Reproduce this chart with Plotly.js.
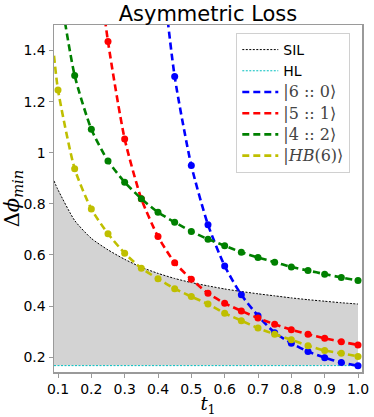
<!DOCTYPE html>
<html>
<head>
<meta charset="utf-8">
<script src="https://cdn.plot.ly/plotly-3.0.1.min.js"></script>
<style>
  html, body { margin: 0; padding: 0; background: #fff; }
  #chart { width: 374px; height: 417px; }
</style>
</head>
<body>
<div id="chart"></div>
<script>
// --- Data ---
// common grid for the state curves (markers every 0.05)
const tGrid = [0.1, 0.15, 0.2, 0.25, 0.3, 0.35, 0.4, 0.45, 0.5, 0.55,
               0.6, 0.65, 0.7, 0.75, 0.8, 0.85, 0.9, 0.95, 1.0];

// |6::0>  (enters from the top between 0.4 and 0.45)
const t60 = [0.4, 0.45, 0.5, 0.55, 0.6, 0.65, 0.7, 0.75, 0.8, 0.85, 0.9, 0.95, 1.0];
const y60 = [1.86, 1.298, 0.95, 0.718, 0.557, 0.444, 0.362, 0.296, 0.255, 0.222, 0.198, 0.179, 0.166];

// |5::1>
const t51 = [0.2, 0.25, 0.3, 0.35, 0.4, 0.45, 0.5, 0.55, 0.6, 0.65, 0.7, 0.75, 0.8, 0.85, 0.9, 0.95, 1.0];
const y51 = [1.95, 1.435, 1.054, 0.820, 0.672, 0.570, 0.505, 0.450, 0.411, 0.381, 0.353, 0.329, 0.307, 0.290, 0.274, 0.260, 0.248];

// |4::2>
const y42 = [1.68, 1.302, 1.092, 0.968, 0.885, 0.820, 0.767, 0.728, 0.692, 0.662,
             0.636, 0.611, 0.590, 0.572, 0.553, 0.539, 0.525, 0.512, 0.500];

// |HB(6)>  (line runs on to the left spine)
const tHB = [0.088].concat(tGrid);
const yHB = [1.38, 1.246, 0.937, 0.780, 0.683, 0.607, 0.548, 0.507, 0.468, 0.437, 0.408,
             0.372, 0.343, 0.314, 0.290, 0.268, 0.245, 0.226, 0.215, 0.203];

// SIL and HL bounds
const tBound = [0.088].concat(tGrid);
const ySIL = [0.89, 0.855, 0.735, 0.665, 0.62, 0.583, 0.552, 0.528, 0.508, 0.492, 0.479,
              0.467, 0.457, 0.448, 0.440, 0.432, 0.425, 0.419, 0.413, 0.408];
const tHL = [0.088, 1.0];
const yHL = [0.167, 0.167];

// x tick labels
const xTickVals = [0.1, 0.2, 0.3, 0.4, 0.5, 0.6, 0.7, 0.8, 0.9, 1.0];
const xTickText = ['0.1', '0.2', '0.3', '0.4', '0.5', '0.6', '0.7', '0.8', '0.9', '1.0'];

// --- Styling ---
const dash = '7px,4px';
const serif = "'DejaVu Serif', serif";
const mathName = s => `<span style="font-family:${serif};font-size:16px;color:#444">${s}</span>`;

// each state = a line trace (legend) + a marker trace (no legend)
function stateTraces(x, y, color, name) {
    const line = {
        x: x, y: y,
        type: 'scatter', mode: 'lines', name: name,
        line: { color: color, width: 2.6, dash: dash, shape: 'spline', smoothing: 0.6 }
    };
    const mx = x.filter(v => v >= 0.1);
    const my = y.filter((v, i) => x[i] >= 0.1);
    const dots = {
        x: mx, y: my,
        type: 'scatter', mode: 'markers', showlegend: false,
        marker: { color: color, size: 7, opacity: 1, line: { width: 0 } }
    };
    return [line, dots];
}

// gray band between HL and SIL
const fillBase = {
    x: tHL, y: yHL, type: 'scatter', mode: 'lines',
    line: { width: 0 }, showlegend: false, hoverinfo: 'skip'
};
const fillTop = {
    x: tBound, y: ySIL, type: 'scatter', mode: 'lines',
    fill: 'tonexty', fillcolor: '#d3d3d3',
    line: { width: 0, shape: 'spline', smoothing: 0.6 }, showlegend: false, hoverinfo: 'skip'
};

const silTrace = {
    x: tBound, y: ySIL, type: 'scatter', mode: 'lines', name: 'SIL',
    line: { color: '#000', width: 1, dash: '2px,1.5px', shape: 'spline', smoothing: 0.6 }
};
const hlTrace = {
    x: tHL, y: yHL, type: 'scatter', mode: 'lines', name: 'HL',
    line: { color: '#00bfbf', width: 1, dash: '2px,1.5px' }
};

const traces = [fillBase, fillTop, silTrace, hlTrace]
    .concat(stateTraces(t60, y60, '#0000ff', mathName('|6 :: 0⟩')))
    .concat(stateTraces(t51, y51, '#ff0000', mathName('|5 :: 1⟩')))
    .concat(stateTraces(tGrid, y42, '#008000', mathName('|4 :: 2⟩')))
    .concat(stateTraces(tHB, yHB, '#bfbf00', mathName('|<i>HB</i>(6)⟩')));

const axisCommon = {
    showgrid: false, zeroline: false,
    showline: true, mirror: true, linecolor: '#9a9a9a', linewidth: 1.5,
    ticks: 'outside', ticklen: 4, tickcolor: '#9a9a9a',
    tickfont: { family: 'DejaVu Sans', size: 14, color: '#000' }
};

const layout = {
    width: 374, height: 417,
    margin: { l: 54, r: 12, t: 25, b: 45 },
    paper_bgcolor: '#fff', plot_bgcolor: '#fff',
    font: { family: 'DejaVu Sans', color: '#000' },
    title: {
        text: 'Asymmetric Loss',
        font: { family: 'DejaVu Sans', size: 21, color: '#000' },
        x: 0.556, xanchor: 'center', y: 0.967, yanchor: 'middle'
    },
    xaxis: Object.assign({}, axisCommon, {
        range: [0.088, 1.012],
        tickvals: xTickVals, ticktext: xTickText,
        title: { text: '<i>t</i><sub>1</sub>', font: { family: serif, size: 18 }, standoff: 3 }
    }),
    yaxis: Object.assign({}, axisCommon, {
        range: [0.142, 1.5],
        tickvals: [0.2, 0.4, 0.6, 0.8, 1.0, 1.2, 1.4],
        title: { text: 'Δ<i>ϕ</i><sub><i>min</i></sub>', font: { family: serif, size: 21 }, standoff: 2 }
    }),
    legend: {
        x: 0.962, xanchor: 'right', y: 0.977, yanchor: 'top',
        traceorder: 'normal',
        bgcolor: '#fff', bordercolor: '#d0d0d0', borderwidth: 1,
        font: { family: 'DejaVu Sans', size: 14, color: '#000' },
        itemwidth: 36
    },
    showlegend: true
};

Plotly.newPlot('chart', traces, layout, { displayModeBar: false, staticPlot: true });
</script>
</body>
</html>
